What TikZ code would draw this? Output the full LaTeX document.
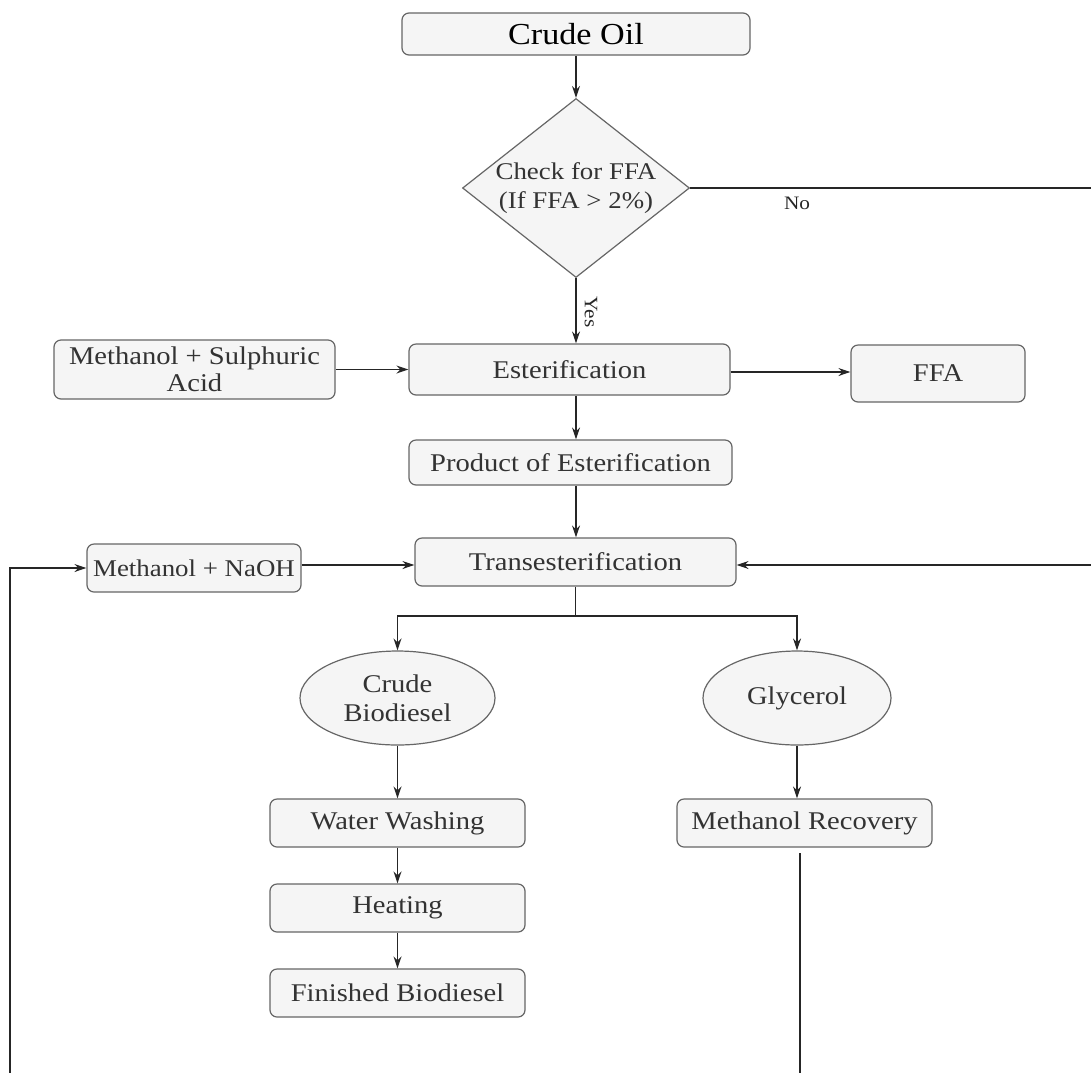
\documentclass[tikz,border=0pt]{standalone}
\usepackage{fontspec}
\setmainfont{Liberation Serif}[FakeStretch=1.12]
\usetikzlibrary{shapes.geometric,arrows.meta}
\definecolor{boxfill}{HTML}{F5F5F5}
\definecolor{boxline}{HTML}{666666}
\definecolor{txt}{HTML}{333333}
\begin{document}
\begin{tikzpicture}[x=1pt,y=-1pt,
  box/.style={draw=boxline,fill=boxfill,rounded corners=7pt,line width=1.2pt,text=txt,
    font=\fontsize{25.5}{27}\selectfont,align=center,inner sep=0pt},
  ell/.style={draw=boxline,fill=boxfill,ellipse,line width=1.2pt,text=txt,
    font=\fontsize{25.5}{29}\selectfont,align=center,inner sep=0pt},
  arr/.style={-{Stealth[length=12pt,width=8pt]},line width=1.3pt,draw=black!85},
  ln/.style={line width=1.3pt,draw=black!85},
  lbl/.style={text=black!85,font=\fontsize{19}{21}\selectfont,inner sep=0pt}]
\useasboundingbox (0,0) rectangle (1091,1072);

\node[box,minimum width=348,minimum height=42,text=black,font=\fontsize{30.5}{32}\selectfont] (crude) at (576,34) {Crude Oil};
\node[diamond,draw=boxline,fill=boxfill,line width=1.2pt,minimum width=227,minimum height=179,inner sep=0pt] (chk) at (576,188) {};
\node[text=txt,font=\fontsize{24}{29}\selectfont,align=center] (chktxt) at (576,188) {Check for FFA\\(If FFA > 2\%)};
\node[box,minimum width=281,minimum height=59] (msa) at (194.5,369.5) {Methanol + Sulphuric\\Acid};
\node[box,minimum width=321,minimum height=51] (est) at (569.5,369.5) {Esterification};
\node[box,minimum width=174,minimum height=57] (ffa) at (938,373.5) {FFA};
\node[box,minimum width=323,minimum height=45] (prod) at (570.5,462.5) {Product of Esterification};
\node[box,minimum width=321,minimum height=48] (trans) at (575.5,562) {Transesterification};
\node[box,minimum width=214,minimum height=48,font=\fontsize{24}{26}\selectfont] (naoh) at (194,568) {Methanol + NaOH};
\node[ell,minimum width=195,minimum height=94] (cb) at (397.5,698) {Crude\\Biodiesel};
\node[ell,minimum width=188,minimum height=94] (gly) at (797,698) {Glycerol};
\node[box,minimum width=255,minimum height=48] (ww) at (397.5,823) {Water Washing};
\node[box,minimum width=255,minimum height=48] (mr) at (804.5,823) {Methanol Recovery};
\node[box,minimum width=255,minimum height=48] (heat) at (397.5,908) {Heating};
\node[box,minimum width=255,minimum height=48] (fin) at (397.5,993) {Finished Biodiesel};

\node[lbl,rotate=-90] (yes) at (591,312) {Yes};
\node[lbl] (no) at (797,203) {No};

\coordinate (rt) at (1096,188);
\coordinate (rb) at (1096,565);
\coordinate (lb) at (10,1080);
\coordinate (sp) at (575.5,616);
\coordinate (m1) at (800,853);
\coordinate (m2) at (800,1080);

\draw[arr] (crude.south) -- (chk.north);
\draw[arr] (chk.south) -- (chk.south |- est.north);
\draw[ln] (chk.east) -- (rt);
\draw[arr] (msa.east) -- (msa.east -| est.west);
\draw[arr] (est.east |- 0,372) -- (ffa.west |- 0,372);
\draw[arr] (chk.south |- est.south) -- (chk.south |- prod.north);
\draw[arr] (chk.south |- prod.south) -- (chk.south |- trans.north);
\draw[arr] (lb) |- (naoh.west);
\draw[arr] (naoh.east |- 0,565) -- (trans.west |- 0,565);
\draw[arr] (rb) -- (rb -| trans.east);
\draw[ln] (trans.south) -- (sp);
\draw[arr] (sp) -| (cb.north);
\draw[arr] (sp) -| (gly.north);
\draw[arr] (cb.south) -- (ww.north);
\draw[arr] (gly.south) -- (gly.south |- mr.north);
\draw[arr] (ww.south) -- (heat.north);
\draw[arr] (heat.south) -- (fin.north);
\draw[ln] (m1) -- (m2);
\end{tikzpicture}
\end{document}
